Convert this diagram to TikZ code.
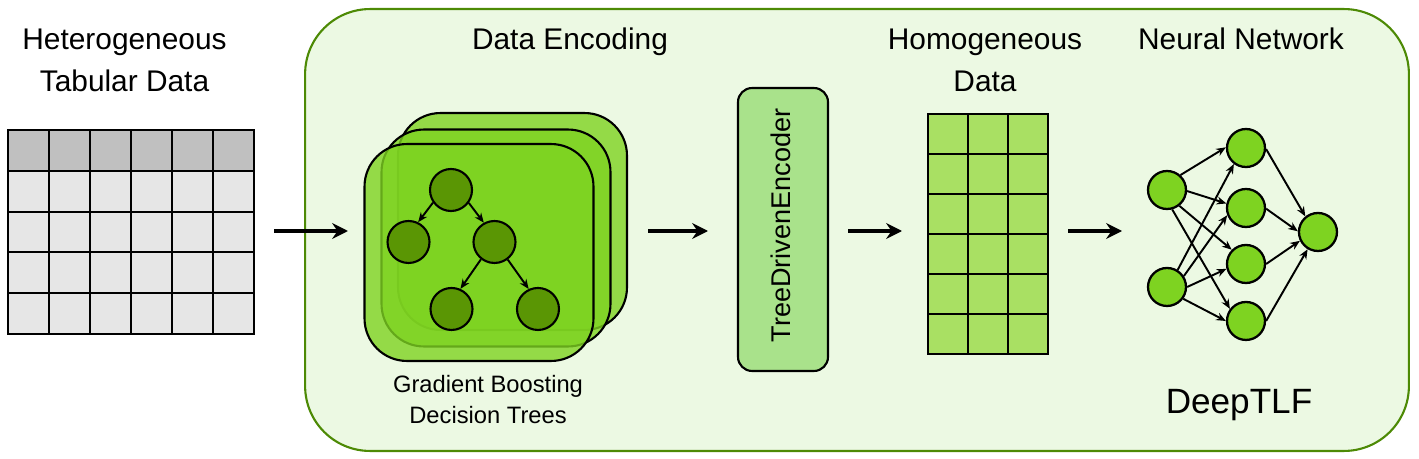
\documentclass[tikz,border=0pt]{standalone}
\usepackage{fontspec}
\setmainfont{Liberation Sans}
\usetikzlibrary{arrows.meta, positioning}
\definecolor{cPanel}{HTML}{ECF9E3}
\definecolor{cPanelLine}{HTML}{4D8A05}
\definecolor{cLeaf}{HTML}{7ED321}
\definecolor{cTree}{HTML}{5A9604}
\definecolor{cEncoder}{HTML}{A9E28B}
\definecolor{cGrid}{HTML}{A9E063}
\definecolor{cHead}{HTML}{C0C0C0}
\definecolor{cCell}{HTML}{E6E6E6}

\begin{document}
\begin{tikzpicture}[
    x=0.02cm, y=-0.02cm,
    cell/.style={draw, line width=1.2pt, minimum size=0.82cm, inner sep=0pt, fill=#1},
    sheet/.style={draw, line width=1.2pt, rounded corners=0.85cm, fill=cLeaf, fill opacity=0.8,
                  minimum width=4.58cm, minimum height=4.34cm},
    tnode/.style={circle, draw, line width=1.2pt, minimum size=0.84cm, inner sep=0pt, fill=cTree},
    nnode/.style={circle, draw, line width=1.3pt, minimum size=0.76cm, inner sep=0pt, fill=cLeaf},
    arr/.style={-{Stealth[length=5.5pt, width=4.5pt]}, line width=1.1pt},
    flow/.style={-{Stealth[length=9pt, width=9pt, inset=3pt]}, line width=1.8pt},
    big/.style={font=\fontsize{17}{23.9}\selectfont, align=center},
    small/.style={font=\fontsize{13.5}{17.6}\selectfont, align=center},
  ]
  \useasboundingbox (0,0) rectangle (1419,459);

  % ── PANEL ──
  \node[draw=cPanelLine, fill=cPanel, line width=1.2pt, rounded corners=1.3cm,
        minimum width=22.08cm, minimum height=8.84cm] (panel) at (857,230) {};

  % ── TABLE ──
  \foreach \c in {0,...,5} {
    \node[cell=cHead] (h-\c) at ({28.5+41*\c},150.5) {};
    \foreach \r in {1,...,4}
      \node[cell=cCell] (t-\r-\c) at ({28.5+41*\c},{150.5+40.8*\r}) {};
  }
  \node[big] (tabular) at (124.5,60) {Heterogeneous\\Tabular Data};

  % ── TREE STACK ──
  \node[sheet] (back) at (512.5,221.5) {};
  \node[sheet] (middle) at (496,238) {};
  \node[sheet] (front) at (479,252.5) {};
  \node[small] (gbdt) at (488,399.5) {Gradient Boosting\\Decision Trees};
  \node[big] (encoding) at (570,42) {Data Encoding};

  % ── TREE ──
  \begin{scope}[on grid]
    \node[tnode] (root) at (451,190) {};
    \node[tnode, below left=1.04cm and 0.85cm of root] (left) {};
    \node[tnode, below right=1.04cm and 0.87cm of root] (right) {};
    \node[tnode, below left=1.34cm and 0.86cm of right] (leafa) {};
    \node[tnode, below right=1.34cm and 0.87cm of right] (leafb) {};
  \end{scope}
  \draw[arr] (root.215) -- (left.64);
  \draw[arr] (root.-36) -- (right.119);
  \draw[arr] (right.232) -- (leafa.66);
  \draw[arr] (right.-53) -- (leafb.115);

  % ── ENCODER ──
  \node[draw, line width=1.2pt, fill=cEncoder, rounded corners=0.28cm, minimum width=1.8cm,
        minimum height=5.66cm] (encoder) at (783,229.5) {};
  \node[rotate=90, font=\fontsize{15.4}{18}\selectfont] (enclabel) at (781,225.5) {TreeDrivenEncoder};

  % ── HOMOGENEOUS DATA ──
  \foreach \c in {0,1,2}
    \foreach \r in {0,...,5}
      \node[cell=cGrid, minimum size=0.8cm] (g-\r-\c) at ({948+40*\c},{134+40*\r}) {};
  \node[big] (homog) at (985,60) {Homogeneous\\Data};

  % ── NETWORK ──
  \begin{scope}[on grid]
    \node[nnode] (ia) at (1167,190) {};
    \node[nnode, below=1.94cm of ia] (ib) {};
    \node[nnode, above right=0.84cm and 1.58cm of ia] (ha) {};
    \node[nnode, below=1.2cm of ha] (hb) {};
    \node[nnode, below=1.12cm of hb] (hc) {};
    \node[nnode, below=1.14cm of hc] (hd) {};
    \node[nnode, below right=1.68cm and 1.44cm of ha] (out) {};
  \end{scope}
  \draw[arr] (ia.48) -- (ha.178);
  \draw[arr] (ia.-3) -- (hb.167);
  \draw[arr] (ia.-52) -- (hc.135);
  \draw[arr] (ia.-75) -- (hd.143);
  \draw[arr] (ib.58) -- (ha.233);
  \draw[arr] (ib.33) -- (hb.201);
  \draw[arr] (ib.0) -- (hc.194);
  \draw[arr] (ib.-36) -- (hd.180);
  \draw[arr] (ha.-3) -- (out.129);
  \draw[arr] (hb.-2) -- (out.178);
  \draw[arr] (hc.0) -- (out.206);
  \draw[arr] (hd.0) -- (out.239);
  \node[big] (neural) at (1241,39) {Neural Network};
  \node[font=\fontsize{20}{24}\selectfont] (deeptlf) at (1239,405) {DeepTLF};

  % ── FLOW ARROWS ──
  \coordinate (fa) at (274,231); \coordinate (fb) at (348,231);
  \coordinate (fc) at (648,231); \coordinate (fd) at (708,231);
  \coordinate (fe) at (848,231); \coordinate (ff) at (902,231);
  \coordinate (fg) at (1068,231); \coordinate (fh) at (1122,231);
  \draw[flow] (fa) -- (fb);
  \draw[flow] (fc) -- (fd);
  \draw[flow] (fe) -- (ff);
  \draw[flow] (fg) -- (fh);
\end{tikzpicture}
\end{document}
